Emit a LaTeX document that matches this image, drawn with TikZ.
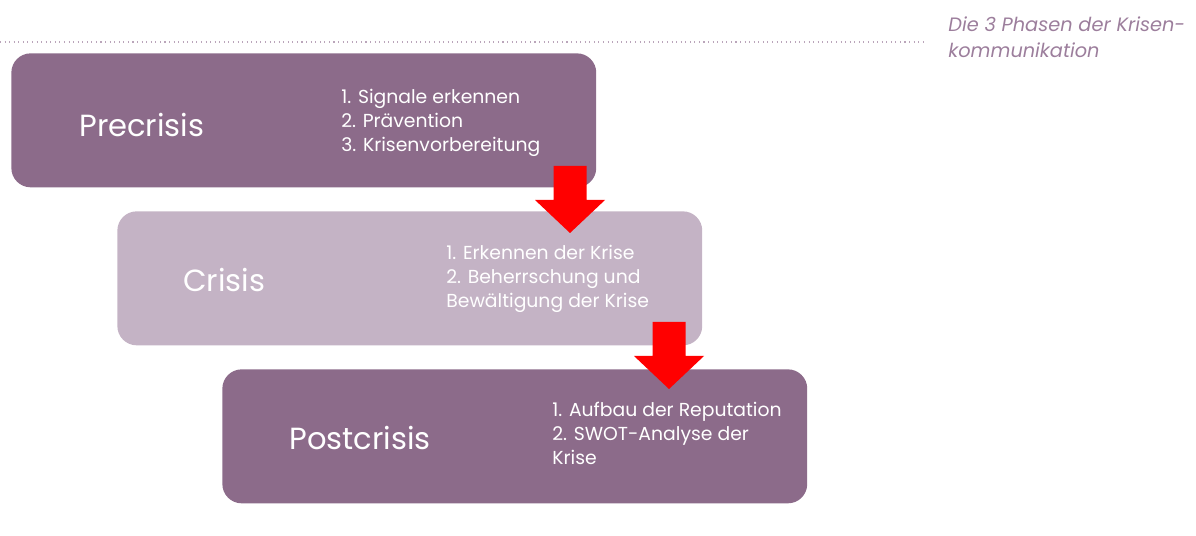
\documentclass[tikz,border=0pt]{standalone}
\usepackage{fontspec}
\setmainfont{Poppins}
\definecolor{phasedark}{HTML}{8C6B8A}
\definecolor{phaselight}{HTML}{C4B3C5}
\definecolor{captext}{HTML}{9C7E9C}
\tikzset{
  phasebox/.style={rounded corners=11pt, minimum width=11.7cm, minimum height=2.68cm, anchor=north west, inner sep=0pt},
  phasetitle/.style={anchor=west, text=white, inner sep=0pt, font=\fontsize{17.4}{22}\selectfont},
  phaselist/.style={anchor=north west, text=white, align=left, inner sep=0pt, font=\fontsize{10.7}{13.6}\selectfont}
}
% block arrow pointing down, from its top centre
\newcommand\phasearrow[1]{\fill [red] (#1) ++(-16.5,0) -- ++(33,0) -- ++(0,34) -- ++(18.5,0) -- ++(-35,33) -- ++(-35,-33) -- ++(18.5,0) -- cycle;}
\begin{document}
\begin{tikzpicture}[x=0.02cm, y=-0.02cm]
    \useasboundingbox (0,0) rectangle (1196,536);
    \draw [captext!70, dotted, line width=0.6pt] (0,42) -- (925,42);
    \node [anchor=north west, text=captext, align=left, inner sep=0pt, font=\fontsize{11}{15}\selectfont\itshape] (cap) at (948,16) {Die 3 Phasen der Krisen-\\kommunikation};
    % the three phases
    \node [phasebox, fill=phasedark] (pre) at (11,53) {};
    \node [phasebox, fill=phaselight] (cri) at (117,211) {};
    \node [phasebox, fill=phasedark] (post) at (222,369) {};
    \node [phasetitle] (pret) at (79,125) {Precrisis};
    \node [phasetitle] (crit) at (183,280) {Crisis};
    \node [phasetitle] (postt) at (289,438) {Postcrisis};
    \node [phaselist] (prel) at (341,89) {1. Signale erkennen\\2. Prävention\\3. Krisenvorbereitung};
    \node [phaselist] (cril) at (446,245) {1. Erkennen der Krise\\2. Beherrschung und\\Bewältigung der Krise};
    \node [phaselist] (postl) at (552,402) {1. Aufbau der Reputation\\2. SWOT-Analyse der\\Krise};
    % arrows between the phases
    \coordinate (arr1) at (570,166);
    \coordinate (arr2) at (669,322);
    \phasearrow{arr1}
    \phasearrow{arr2}
\end{tikzpicture}
\end{document}
